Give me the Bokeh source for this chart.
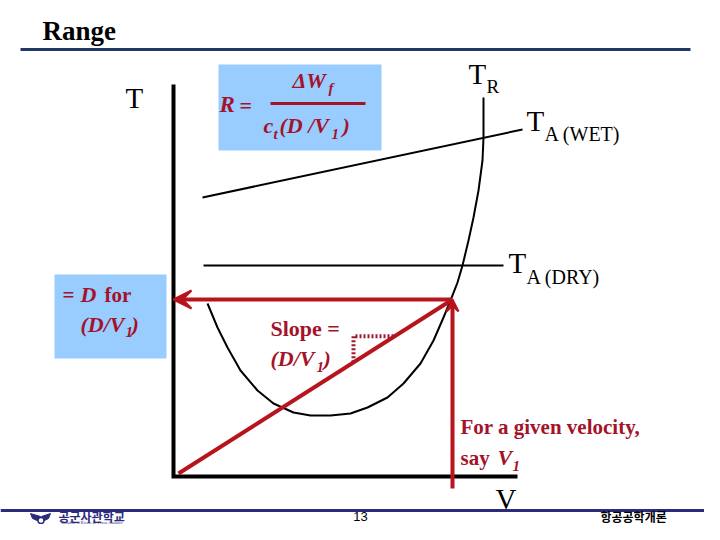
from bokeh.plotting import figure
from bokeh.models import Range1d, Label, Arrow, VeeHead
from bokeh.embed import file_html
from bokeh.resources import INLINE

# ---------------- data (chart units: V right of origin, T above origin) -------------
v_tr = [34, 44, 54, 67, 84, 100, 120, 137, 157, 177, 194, 214, 230, 247, 260,
        270, 277, 284, 289, 295, 300, 305, 309, 310, 310]
t_tr = [173, 149, 129, 106, 86, 73, 64, 61, 61, 63, 69, 79, 93, 113, 136,
        159, 176, 194, 211, 236, 259, 286, 316, 339, 379]
v_wet = [29, 349]
t_wet = [279, 347]
v_dry = [30, 330]
t_dry = [211, 211]
v_axis_end = 344
t_axis_end = 392
V1 = 279          # given velocity
D = 177           # drag at V1
v_tan = [5, V1]
t_tan = [3, D]
v_low = -12       # bottom of the V1 marker

# ---------------- layout helpers (reference pixel -> chart units) -------------------
OX, OY = 173, 476


def X(px):
    return px - OX


def Y(py):
    return OY - py


RED = "#B8141E"
TXT = "#A3142A"
BLUE_BOX = "#99CCFF"
NAVY = "#1F3864"
NAVY2 = "#2B2B7B"

p = figure(width=704, height=524, x_range=Range1d(X(0), X(704)),
           y_range=Range1d(Y(524), Y(0)), toolbar_location=None,
           output_backend="svg", min_border=0, x_axis_type=None, y_axis_type=None)
p.grid.visible = False
p.outline_line_color = None
p.background_fill_color = "white"


def lab(px, py, text, size, style="normal", color="black", font="Liberation Serif",
        align="left"):
    # labels render about a third of their size below the requested baseline
    yb = py - 0.33 * size
    p.add_layout(Label(x=X(px), y=Y(yb), text=text, text_font=font,
                       text_font_size=f"{size}px", text_font_style=style,
                       text_color=color, text_align=align, text_baseline="alphabetic"))


# header
lab(42, 39, "Range", 27, "bold")
p.segment(X(20), Y(49), X(690), Y(49), line_color=NAVY, line_width=3)

# light-blue boxes
p.quad(left=X(218), right=X(381), top=Y(64), bottom=Y(150), fill_color=BLUE_BOX,
       line_color=None)
p.quad(left=X(54), right=X(166), top=Y(274), bottom=Y(358), fill_color=BLUE_BOX,
       line_color=None)

# formula R = dWf / (ct (D/V1))
lab(219, 112, "R", 23, "bold italic", TXT)
lab(239, 112, "=", 22, "bold", TXT)
lab(292, 87, "\u0394W", 22, "bold italic", TXT)
lab(328, 92, "f", 15, "bold italic", TXT)
p.segment(X(270), Y(103), X(365), Y(103), line_color=TXT, line_width=3)
lab(263, 132, "c", 22, "bold italic", TXT)
lab(273, 138, "t", 15, "bold italic", TXT)
lab(279, 132, "(D /V", 22, "bold italic", TXT)
lab(331, 138, "1", 15, "bold italic", TXT)
lab(342, 132, ")", 22, "bold italic", TXT)

# "= D for (D/V1)"
lab(62, 301, "=", 21, "bold", TXT)
lab(80, 301, "D", 22, "bold italic", TXT)
lab(104, 301, "for", 21, "bold", TXT)
lab(80, 331, "(D/V", 22, "bold italic", TXT)
lab(125, 336, "1", 15, "bold italic", TXT)
lab(131, 331, ")", 22, "bold italic", TXT)

# axis labels
lab(125, 107, "T", 29)
lab(495, 508, "V", 29)

# curve labels
lab(468, 83, "T", 29)
lab(486, 92, "R", 19)
lab(526, 130, "T", 29)
lab(544, 140, "A (WET)", 20)
lab(508, 272, "T", 29)
lab(526, 283, "A (DRY)", 20)

# black curves
p.line(v_tr, t_tr, line_color="black", line_width=2, line_join="round")
p.line(v_wet, t_wet, line_color="black", line_width=2)
p.line(v_dry, t_dry, line_color="black", line_width=2)
p.line([0, 0, v_axis_end], [t_axis_end, 0, 0], line_color="black", line_width=4,
       line_join="miter")

# red construction lines
p.line(v_tan, t_tan, line_color=RED, line_width=4)
p.add_layout(Arrow(x_start=V1, y_start=D, x_end=0, y_end=D, line_color=RED,
                   line_width=4,
                   end=VeeHead(size=18, line_color=RED, fill_color=RED, line_width=2)))
p.add_layout(Arrow(x_start=V1, y_start=v_low, x_end=V1, y_end=D, line_color=RED,
                   line_width=4,
                   end=VeeHead(size=12, line_color=RED, fill_color=RED, line_width=2)))

# slope triangle (dotted), built on the tangent line
slope = (t_tan[1] - t_tan[0]) / (v_tan[1] - v_tan[0])
va = 180
ta = t_tan[0] + slope * (va - v_tan[0])
tb = ta + 26
vb = v_tan[0] + (tb - t_tan[0]) / slope
p.line([va, va, vb], [ta, tb, tb], line_color="#9B1B30", line_width=4,
       line_dash="2 2")

lab(270, 335, "Slope =", 22, "bold", TXT)
lab(270, 365, "(D/V", 22, "bold italic", TXT)
lab(316, 371, "1", 15, "bold italic", TXT)
lab(323, 365, ")", 22, "bold italic", TXT)

lab(460, 433, "For a given velocity,", 21, "bold", TXT)
lab(460, 464, "say", 21, "bold", TXT)
lab(497, 464, "V", 22, "bold italic", TXT)
lab(512, 470, "1", 15, "bold italic", TXT)

# footer (compressed to fit the canvas)
p.segment(X(0), Y(510), X(704), Y(510), line_color=NAVY2, line_width=3)
p.patches([[X(30), X(40), X(39), X(32)], [X(50), X(41), X(42), X(48)]],
          [[Y(513), Y(516), Y(521), Y(518)], [Y(513), Y(516), Y(521), Y(518)]],
          fill_color=NAVY2, line_color=NAVY2)
p.scatter([X(40.5)], [Y(520)], size=6, marker="circle", fill_color="white",
          line_color=NAVY2, line_width=1.5)
lab(58, 520, "\uacf5\uad70\uc0ac\uad00\ud559\uad50", 12, "bold", NAVY2,
    font="Noto Sans CJK KR")
lab(61, 523, "Republic of Korea Air Force Academy", 4, "italic", NAVY2,
    font="Liberation Serif")
lab(360, 520, "13", 13, "normal", "black", font="Liberation Sans", align="center")
lab(600, 520, "\ud56d\uacf5\uacf5\ud559\uac1c\ub860", 12, "bold", "black",
    font="Noto Sans CJK KR")

open("out.html", "w").write(file_html(p, INLINE))
